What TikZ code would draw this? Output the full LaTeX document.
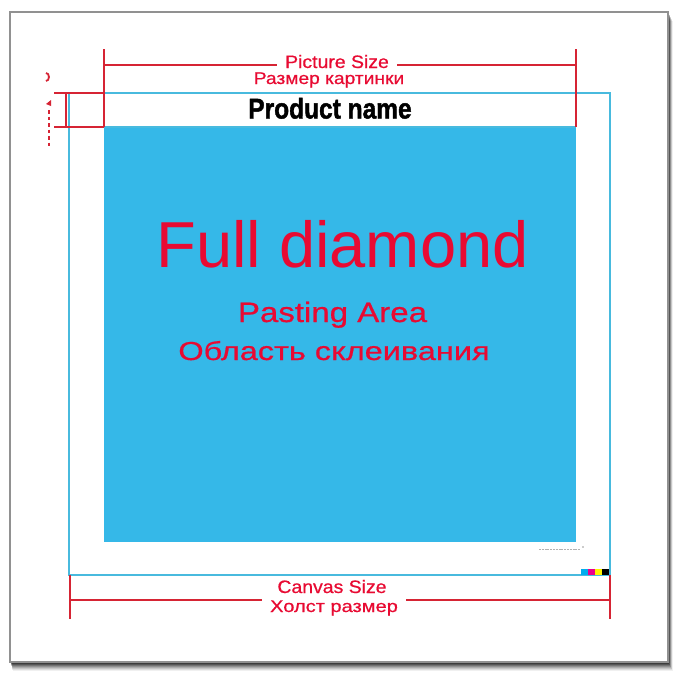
\documentclass[tikz,border=0pt]{standalone}
\usepackage{fontspec}
\usepackage{graphicx}
\setmainfont{Liberation Sans}
\newfontfamily\heavysans[FakeBold=0.6]{Liberation Sans}
\newfontfamily\impactish[FakeBold=1.6]{Liberation Sans Bold}
\definecolor{skyfill}{RGB}{53,184,232}
\definecolor{cyanline}{RGB}{72,186,222}
\definecolor{dimred}{RGB}{214,36,52}
\definecolor{txtred}{RGB}{232,10,50}
\definecolor{framegray}{RGB}{145,145,145}
\tikzset{
  dimline/.style={draw=dimred, line width=1.2pt},
  cyanedge/.style={draw=cyanline, line width=1.1pt},
  redtext/.style={text=txtred, inner sep=0pt},
  gapbox/.style={fill=white, inner xsep=8pt, inner ysep=1pt}
}
\newcommand{\fs}[1]{\fontsize{#1}{#1}\selectfont}
\begin{document}
\begin{tikzpicture}[x=1pt,y=-1pt]
\useasboundingbox (0,0) rectangle (680,680);
\fill[white] (0,0) rectangle (680,680);
% frame shadow
\foreach \o/\a in {9/0.06,8/0.08,7/0.1,6/0.13,5/0.16,4/0.2,3/0.25,2/0.3}
  \fill[black, opacity=\a] (10+\o*0.3,12+\o) rectangle (668+\o*0.5,662+\o);
\fill[white] (10,12) rectangle (668,662);
\draw[framegray, line width=2.8pt] (10,12) rectangle (668,662);
% canvas outline
\draw[cyanedge] (69,93) rectangle (610,575);
% blue pasting area
\fill[skyfill] (104,127) rectangle (576,542);
\draw[cyanedge] (104,127) -- (576,127);
% product name band
\node[inner sep=0pt, anchor=base] (pname) at (330,118.5)
  {\fs{25}\impactish\scalebox{0.98}[1.14]{Product name}};
% picture size dimension
\coordinate (psL0) at (104,49); \coordinate (psL1) at (104,127);
\coordinate (psR0) at (576,49); \coordinate (psR1) at (576,127);
\coordinate (psLm) at (104,65); \coordinate (psRm) at (576,65);
\draw[dimline] (psL0) -- (psL1);
\draw[dimline] (psR0) -- (psR1);
\draw[dimline] (psLm) -- (psRm);
\node[gapbox, anchor=base] (picsize) at (337,68)
  {\color{txtred}\fs{18}\heavysans\scalebox{1.08}[1]{Picture Size}};
\node[redtext, anchor=base] (picsizeru) at (329,84)
  {\fs{17}\heavysans\scalebox{1.13}[1]{Размер картинки}};
% band height dimension on left
\coordinate (bT0) at (54,93); \coordinate (bT1) at (104,93);
\coordinate (bB0) at (54,127); \coordinate (bB1) at (104,127);
\coordinate (bV0) at (66,93); \coordinate (bV1) at (66,127);
\draw[dimline] (bT0) -- (bT1);
\draw[dimline] (bB0) -- (bB1);
\draw[dimline] (bV0) -- (bV1);
% fragments of cut-off label
\draw[dimred, line width=1.8pt] (46,81) arc (90:-90:3 and 4);
\fill[dimred] (46,104) -- (51,100) -- (51,106) -- cycle;
\draw[dimred, line width=2pt, dash pattern=on 3.5pt off 3pt] (48.5,110) -- (48.5,147);
% canvas size dimension
\coordinate (csL0) at (70,575); \coordinate (csL1) at (70,619);
\coordinate (csR0) at (610,575); \coordinate (csR1) at (610,619);
\coordinate (csLm) at (70,600); \coordinate (csRm) at (610,600);
\draw[dimline] (csL0) -- (csL1);
\draw[dimline] (csR0) -- (csR1);
\draw[dimline] (csLm) -- (csRm);
\node[redtext, anchor=base] (cansize) at (332,593)
  {\fs{18}\heavysans\scalebox{1.08}[1]{Canvas Size}};
\node[gapbox, anchor=base] (cansizeru) at (334,612)
  {\color{txtred}\fs{17}\heavysans\scalebox{1.18}[1]{Холст размер}};
% main texts
\node[redtext, anchor=base] (full) at (342.5,267)
  {\fs{65}Full diamond};
\node[redtext, anchor=base] (paste) at (332.5,322)
  {\fs{28}\heavysans\scalebox{1.18}[1]{Pasting Area}};
\node[redtext, anchor=base] (pasteru) at (334,360)
  {\fs{26}\heavysans\scalebox{1.25}[1]{Область склеивания}};
% tiny print marks
\draw[gray!60, line width=0.8pt, dash pattern=on 2pt off 0.8pt] (539,549) -- (580,549);
\fill[gray!80] (583,547) circle (0.9);
\fill[cyan] (581,569) rectangle (588,575);
\fill[magenta] (588,569) rectangle (595,575);
\fill[yellow] (595,569) rectangle (602,575);
\fill[black] (602,569) rectangle (609,575);
\end{tikzpicture}
\end{document}
